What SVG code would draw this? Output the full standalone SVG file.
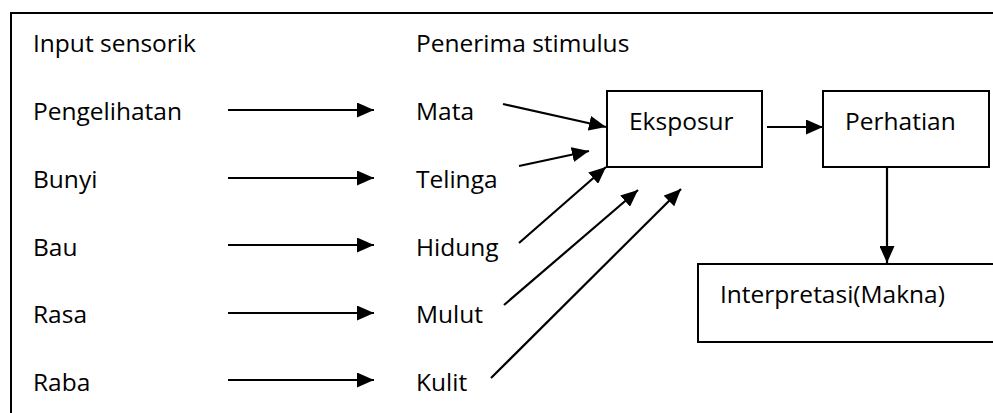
<svg xmlns="http://www.w3.org/2000/svg" width="993" height="413" viewBox="0 0 993 413">
<style>
text{font-family:"Open Sans","Noto Sans",sans-serif;font-size:24.5px;fill:#000}
.b{fill:#fff;stroke:#000;stroke-width:2}
.c line{stroke:#000;stroke-width:2.2;marker-end:url(#ah)}
</style>
<defs>
<marker id="ah" markerUnits="userSpaceOnUse" markerWidth="17" markerHeight="15" refX="17" refY="7.5" orient="auto" viewBox="0 0 17 15">
<path d="M0,0 L17,7.5 L0,15 z" fill="#000"/>
</marker>
</defs>
<rect x="11" y="13" width="1000" height="420" fill="none" stroke="#000" stroke-width="2"/>
<g id="inputs">
<text x="33" y="52">Input sensorik</text>
<text x="33" y="120">Pengelihatan</text>
<text x="33" y="188">Bunyi</text>
<text x="33" y="256">Bau</text>
<text x="33" y="323">Rasa</text>
<text x="33" y="391">Raba</text>
</g>
<g id="receptors">
<text x="416" y="52">Penerima stimulus</text>
<text x="416" y="120">Mata</text>
<text x="416" y="188">Telinga</text>
<text x="416" y="256">Hidung</text>
<text x="416" y="323">Mulut</text>
<text x="416" y="391">Kulit</text>
</g>
<g id="eksposur">
<rect class="b" x="607" y="91" width="155" height="76"/>
<text x="629" y="130">Eksposur</text>
</g>
<g id="perhatian">
<rect class="b" x="823" y="91" width="166" height="76"/>
<text x="845" y="130">Perhatian</text>
</g>
<g id="interpretasi">
<rect class="b" x="698" y="264" width="310" height="78"/>
<text x="720" y="303">Interpretasi(Makna)</text>
</g>
<g id="connectors" class="c">
<line x1="228" y1="110" x2="374" y2="110"/>
<line x1="228" y1="178" x2="374" y2="178"/>
<line x1="228" y1="245" x2="374" y2="245"/>
<line x1="228" y1="313" x2="374" y2="313"/>
<line x1="228" y1="380" x2="374" y2="380"/>
<line x1="503" y1="104" x2="606" y2="127"/>
<line x1="519" y1="166" x2="589" y2="151"/>
<line x1="519" y1="243" x2="606" y2="167"/>
<line x1="504" y1="305" x2="638" y2="190"/>
<line x1="491" y1="378" x2="681" y2="189"/>
<line x1="767" y1="127" x2="823" y2="127"/>
<line x1="887" y1="167" x2="887" y2="263"/>
</g>
</svg>
